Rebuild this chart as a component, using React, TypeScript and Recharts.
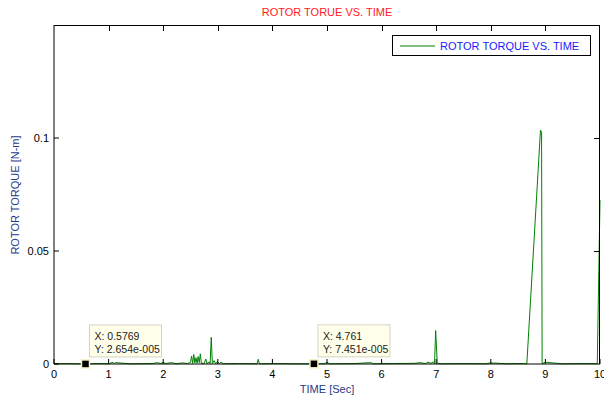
import React from 'react';
import { ComposedChart, Line, XAxis, YAxis, ReferenceDot } from 'recharts';

const FONT = 'Arial, "Liberation Sans", sans-serif';

// simulation output: time (s) vs rotor torque (N-m)
const time = [
  0, 0.2, 0.45, 0.5769, 0.8, 1.0, 1.08, 1.1, 1.12, 1.4, 1.8, 1.9, 1.95, 2.0,
  2.05, 2.15, 2.25, 2.35, 2.45, 2.5, 2.52, 2.54, 2.56, 2.58, 2.6, 2.62, 2.64,
  2.66, 2.68, 2.7, 2.75, 2.78, 2.8, 2.84, 2.86, 2.88, 2.9, 2.93, 2.96, 3.0,
  3.03, 3.06, 3.1, 3.4, 3.72, 3.74, 3.76, 3.8, 4.1, 4.4, 4.761, 4.95, 5.0, 5.05,
  5.5, 5.8, 5.85, 6.2, 6.6, 6.7, 6.8, 6.85, 6.9, 6.95, 6.97, 6.99, 7.02, 7.1,
  7.5, 7.9, 8.0, 8.3, 8.6, 8.66, 8.91, 8.93, 8.94, 9.0, 9.3, 9.7, 9.95, 10,
];
const torque = [
  0.0001, 0.0002, 0.0001, 0.00002654, 0.0002, 0.0001, 0.0008, 0.0001, 0.0006,
  0.0001, 0.0002, 0.0006, 0.0002, 0.0007, 0.0002, 0.0006, 0.0001, 0.0005,
  0.0002, 0.0008, 0.0035, 0.0003, 0.0042, 0.0005, 0.0028, 0.0004, 0.0033,
  0.0006, 0.0045, 0.0003, 0.0002, 0.0022, 0.0002, 0.0009, 0.0002, 0.0118,
  0.0003, 0.0015, 0.0002, 0.001, 0.0002, 0.0008, 0.0001, 0.0002, 0.0001,
  0.0021, 0.0002, 0.0001, 0.0002, 0.0001, 0.00007451, 0.0001, 0.0007, 0.0001,
  0.0002, 0.0006, 0.0001, 0.0002, 0.0003, 0.0006, 0.0002, 0.0008, 0.0003,
  0.0009, 0.0002, 0.0148, 0.0003, 0.0001, 0.0002, 0.0001, 0.0005, 0.0001,
  0.0002, 0.0001, 0.1035, 0.1025, 0.0002, 0.0008, 0.0001, 0.0002, 0.0001,
  0.0726,
];

const X_MAX = 10;
const Y_MAX = 0.15;
const xTicks = [0, 1, 2, 3, 4, 5, 6, 7, 8, 9, 10];
const topTicks = [1, 2, 3, 4, 5, 6, 7, 8, 9];
const yTicks = [0, 0.05, 0.1];
const rightTicks = [0.05, 0.1];

// data cursors placed on the curve
const tipTime = [0.5769, 4.761];
const tipTorque = [2.654e-5, 7.451e-5];

const rows = time.map((t, i) => ({ t, v: torque[i] }));

// plot box (matches chart margin + axis sizes below)
const BOX = { left: 54, top: 25, right: 600, bottom: 364 };

const matlabExp = (n: number) => {
  const [m, e] = n.toExponential(3).split('e');
  const sign = e[0] === '-' ? '-' : '+';
  const digits = e.replace(/[+-]/, '').padStart(3, '0');
  return `${m}e${sign}${digits}`;
};

const DataTip = (props: any) => {
  const { cx, cy, tx, ty } = props;
  return (
    <g fontFamily={FONT} fontSize={10.5}>
      <rect
        x={cx + 4}
        y={cy - 39}
        width={72}
        height={32}
        fill="#ffffea"
        stroke="#d4d4c4"
      />
      <text x={cx + 9} y={cy - 24} fill="#222">
        X: {tx}
      </text>
      <text x={cx + 9} y={cy - 11} fill="#222">
        Y: {matlabExp(ty)}
      </text>
      <rect
        x={cx - 4}
        y={cy - 4}
        width={8}
        height={8}
        fill="#000"
        stroke="#f6f0c0"
        strokeWidth={1.5}
      />
    </g>
  );
};

// top and right edges of the MATLAB-style axes box, ticks pointing inward
const BoxFrame = () => {
  const w = BOX.right - BOX.left;
  const h = BOX.bottom - BOX.top;
  return (
    <div
      style={{
        position: 'absolute',
        left: BOX.left,
        top: BOX.top,
        width: w,
        height: h,
        borderTop: '1px solid #000',
        borderRight: '1px solid #000',
        boxSizing: 'border-box',
        pointerEvents: 'none',
        zIndex: 2,
      }}
    >
      {topTicks.map((t) => (
        <div
          key={`t${t}`}
          style={{
            position: 'absolute',
            left: Math.round((t / X_MAX) * w),
            top: 0,
            width: 1,
            height: 5,
            background: '#000',
          }}
        />
      ))}
      {rightTicks.map((v) => (
        <div
          key={`r${v}`}
          style={{
            position: 'absolute',
            right: 0,
            top: Math.round(h - (v / Y_MAX) * h) - 1,
            width: 5,
            height: 1,
            background: '#000',
          }}
        />
      ))}
    </div>
  );
};

const label = { fontFamily: FONT, fontSize: 11 };
const axisTick = { fill: '#000', fontSize: 11, fontFamily: FONT };

export default function App() {
  return (
    <div
      style={{
        position: 'absolute',
        left: 0,
        top: 0,
        width: 604,
        height: 400,
        background: '#fff',
        overflow: 'hidden',
      }}
    >
      <ComposedChart
        width={604}
        height={400}
        data={rows}
        margin={{ top: BOX.top, right: 604 - BOX.right, bottom: 0, left: 0 }}
      >
        <XAxis
          dataKey="t"
          type="number"
          domain={[0, X_MAX]}
          ticks={xTicks}
          height={400 - BOX.bottom}
          stroke="#000"
          tickSize={-5}
          tickMargin={11}
          tick={axisTick}
          interval={0}
        />
        <YAxis
          type="number"
          domain={[0, Y_MAX]}
          ticks={yTicks}
          width={BOX.left}
          stroke="#000"
          tickSize={-5}
          tickMargin={10}
          tick={axisTick}
          interval={0}
        />
        <Line
          dataKey="v"
          stroke="#008000"
          strokeWidth={1}
          dot={false}
          isAnimationActive={false}
          name="ROTOR TORQUE VS. TIME"
        />
        {tipTime.map((tx, i) => (
          <ReferenceDot
            key={tx}
            x={tx}
            y={tipTorque[i]}
            ifOverflow="visible"
            shape={(p: any) => <DataTip {...p} tx={tx} ty={tipTorque[i]} />}
          />
        ))}
      </ComposedChart>

      <BoxFrame />

      <div
        style={{
          ...label,
          position: 'absolute',
          left: 54,
          width: 546,
          top: 6,
          textAlign: 'center',
          color: '#ff2020',
        }}
      >
        ROTOR TORUE VS. TIME
      </div>
      <div
        style={{
          ...label,
          position: 'absolute',
          left: 54,
          width: 546,
          top: 383,
          textAlign: 'center',
          color: '#1f3a8a',
        }}
      >
        TIME [Sec]
      </div>
      <div
        style={{
          ...label,
          position: 'absolute',
          left: 15,
          top: 195,
          transform: 'translate(-50%, -50%) rotate(-90deg)',
          whiteSpace: 'nowrap',
          color: '#1f3a8a',
        }}
      >
        ROTOR TORQUE [N-m]
      </div>
      <div
        style={{
          ...label,
          position: 'absolute',
          left: 392,
          top: 35,
          width: 197,
          height: 19,
          border: '1px solid #000',
          background: '#fff',
          display: 'flex',
          alignItems: 'center',
          color: '#1a1aff',
          zIndex: 3,
        }}
      >
        <svg width={44} height={10}>
          <line x1={7} y1={5} x2={42} y2={5} stroke="#008000" strokeWidth={1} />
        </svg>
        <span style={{ marginLeft: 3 }}>ROTOR TORQUE VS. TIME</span>
      </div>
    </div>
  );
}
